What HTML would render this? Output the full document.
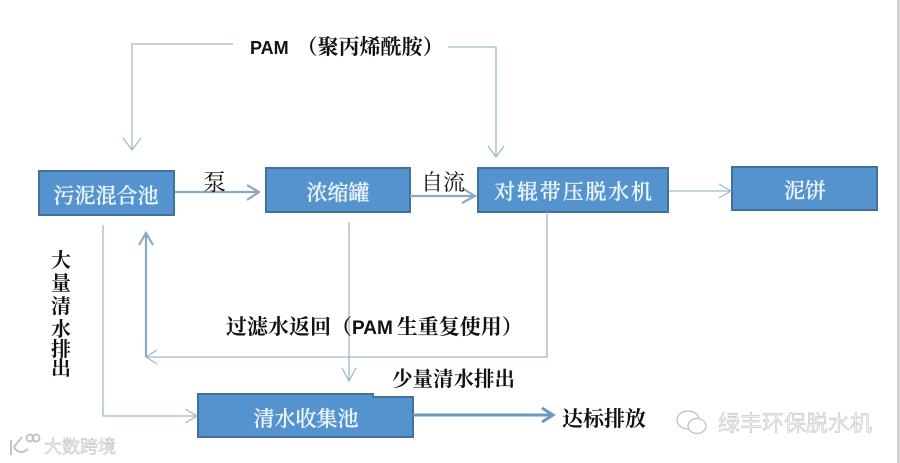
<!DOCTYPE html>
<html><head><meta charset="utf-8"><style>
html,body{margin:0;padding:0;background:#fff}
svg{display:block;font-family:"Liberation Serif","Noto Serif CJK SC",serif}
.b{fill:#5593cf;stroke:#41719c;stroke-width:2}
.w{fill:#eef6fb;font-size:21px;text-anchor:middle;font-weight:500;stroke:#eef6fb;stroke-width:.3}
.k{fill:#111;font-size:20.5px;font-weight:700}
.l{font-family:"Liberation Sans",sans-serif;font-size:18px}
.t{fill:none;stroke:#9dbbc8;stroke-width:1.3}
.m{fill:none;stroke:#86abc6;stroke-width:2.2}
.s{fill:none;stroke:#6a9ac4;stroke-width:3}
.wm{fill:#eeeeee;stroke:#b5b5b5;stroke-width:.4;font-family:"Noto Sans CJK SC",sans-serif}
</style></head><body>
<svg width="900" height="463" viewBox="0 0 900 463" xmlns="http://www.w3.org/2000/svg">
<rect width="900" height="463" fill="#fff"/>
<rect x="897" y="0" width="3" height="463" fill="#d4d4d4"/>

<rect class="b" x="39" y="171" width="135" height="44"/>
<rect class="b" x="266" y="168" width="144" height="44"/>
<rect class="b" x="478" y="168" width="190" height="44"/>
<rect class="b" x="732" y="167" width="145" height="43"/>
<path class="b" d="M198 394H373V397H413V437H198Z"/>

<text class="w" x="106" y="203">污泥混合池</text>
<text class="w" x="338" y="200">浓缩罐</text>
<text class="w" x="574" y="199" style="letter-spacing:1.8px">对辊带压脱水机</text>
<text class="w" x="805" y="198">泥饼</text>
<text class="w" x="306" y="426">清水收集池</text>

<path class="t" d="M233 44H132V150M123 138L132 150L141 138"/>
<path class="t" d="M448 47H496V157M488 146L496 157L504 146"/>
<path class="t" d="M669 191H731M719 184L731 191L719 198"/>
<path class="t" d="M349 222V381M342 368L349 381L356 368"/>
<path class="t" d="M547 212V357H146M157 350L146 357L157 364"/>
<path class="t" d="M103 225V416H197M185 409L197 416L185 423"/>
<path class="m" d="M175 192H259M247 185L259 192L247 200"/>
<path class="m" d="M410 196H475M462 188L475 196L462 203"/>
<path class="m" d="M146 357V233M139 245L146 233L153 245"/>
<path class="s" d="M413 415H553M542 408L553 415L542 422"/>

<text x="203" y="190" style="font-size:23px;fill:#111">泵</text>
<text x="421" y="190" style="font-size:22px;fill:#111">自流</text>
<text class="k" x="250" y="54" style="font-size:21px"><tspan class="l">PAM</tspan><tspan dx="8">（聚丙烯酰胺）</tspan></text>
<text class="k" x="226" y="334" style="font-size:21px">过滤水返回（<tspan class="l" style="font-size:19px">PAM</tspan><tspan dx="4">生重复使用）</tspan></text>
<text class="k" x="392" y="386">少量清水排出</text>
<text class="k" x="562" y="426" style="font-size:21px">达标排放</text>
<g class="k" text-anchor="middle" style="font-size:20px">
<text x="61" y="267">大</text><text x="61" y="290">量</text><text x="61" y="313">清</text><text x="61" y="336">水</text><text x="61" y="356">排</text><text x="61" y="375">出</text>
</g>

<g fill="none" stroke="#c4c4c4" stroke-width="2">
<path d="M11 440V455M22 437L14 447Q19 456 28 449"/>
<circle cx="30" cy="438" r="3.5"/><circle cx="36" cy="438" r="3.5"/>
</g>
<text class="wm" x="44" y="453" style="font-size:18px">大数跨境</text>
<g fill="#fff" stroke="#bdbdbd" stroke-width="1.2">
<ellipse cx="688" cy="420" rx="11" ry="9"/>
<ellipse cx="697" cy="426" rx="9" ry="7.5"/>
</g>
<text class="wm" x="718" y="431" style="font-size:22px">绿丰环保脱水机</text>
</svg>
</body></html>
